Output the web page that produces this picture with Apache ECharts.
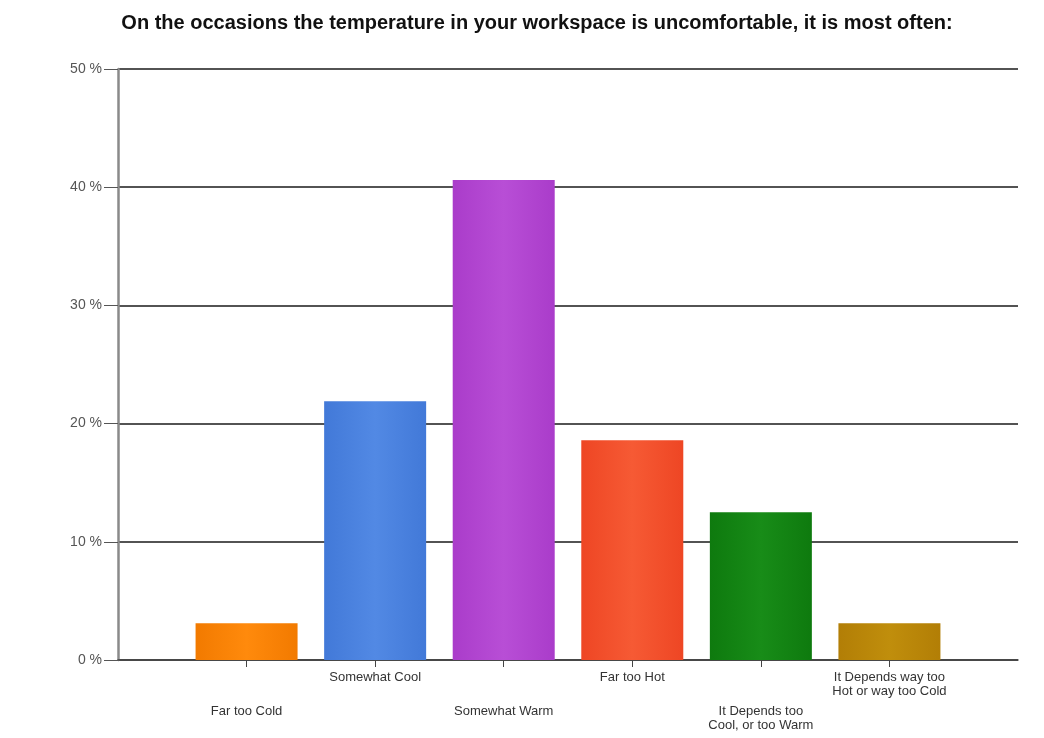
<!DOCTYPE html>
<html>
<head>
<meta charset="utf-8">
<script src="https://cdn.jsdelivr.net/npm/echarts@6/dist/echarts.min.js"></script>
<style>
  html, body { margin: 0; padding: 0; background: #fff; }
  #chart { width: 1044px; height: 738px; }
</style>
</head>
<body>
<div id="chart"></div>
<script>
// answer categories (blank slots at both ends keep the spacing of the original)
const categories = ['', 'Far too Cold', 'Somewhat Cool', 'Somewhat Warm', 'Far too Hot',
  'It Depends too\nCool, or too Warm', 'It Depends way too\nHot or way too Cold', '']
// share of answers, %
const shares = [null, 3.1, 21.9, 40.6, 18.6, 12.5, 3.1, null]
// bar colours [edge, centre]
const barColors = [null,
  ['#f27a00', '#ff8a0c'],
  ['#4279d8', '#5289e4'],
  ['#aa3cca', '#b84ed6'],
  ['#ee4624', '#f65a34'],
  ['#0e7a0e', '#188c18'],
  ['#b27e06', '#c08e0c'],
  null]
const yTicks = [0, 10, 20, 30, 40, 50]

const chart = echarts.init(document.getElementById('chart'))

const fill = (c) => new echarts.graphic.LinearGradient(0, 0, 1, 0, [
  {offset: 0, color: c[0]},
  {offset: 0.5, color: c[1]},
  {offset: 1, color: c[0]}
])

const labelFont = {color: '#333', fontSize: 13, fontFamily: 'Liberation Sans', lineHeight: 14}

chart.setOption({
  animation: false,
  title: {
    text: 'On the occasions the temperature in your workspace is uncomfortable, it is most often:',
    left: 532,
    top: 8,
    textAlign: 'center',
    textStyle: {fontSize: 20, fontWeight: 'bold', color: '#111', fontFamily: 'Liberation Sans'}
  },
  grid: {left: 118, right: 26, top: 69, bottom: 78, containLabel: false},
  xAxis: [{
    type: 'category',
    data: categories,
    boundaryGap: false,
    axisLine: {lineStyle: {color: '#444', width: 1.5}},
    axisTick: {length: 7, lineStyle: {color: '#444'}, interval: (i) => i > 0 && i < categories.length - 1},
    // upper row of labels
    axisLabel: {...labelFont, margin: 10, interval: (i) => i % 2 === 0 && i > 0 && i < 7}
  }, {
    type: 'category',
    data: categories,
    boundaryGap: false,
    position: 'bottom',
    axisLine: {show: false},
    axisTick: {show: false},
    // lower row of labels
    axisLabel: {...labelFont, margin: 44, interval: (i) => i % 2 === 1}
  }],
  yAxis: {
    type: 'value',
    min: yTicks[0],
    max: yTicks[yTicks.length - 1],
    interval: 10,
    axisLine: {show: true, lineStyle: {color: '#8a8a8a', width: 2.5}},
    axisTick: {show: true, length: 14, lineStyle: {color: '#555'}},
    axisLabel: {formatter: '{value} %', color: '#555', fontSize: 14, fontFamily: 'Liberation Sans', margin: 16},
    splitLine: {lineStyle: {color: '#1a1a1a', width: 1.5}}
  },
  series: [{
    type: 'bar',
    barWidth: 102,
    data: shares.map((v, i) => v === null ? null : {value: v, itemStyle: {color: fill(barColors[i])}})
  }]
})
</script>
</body>
</html>
